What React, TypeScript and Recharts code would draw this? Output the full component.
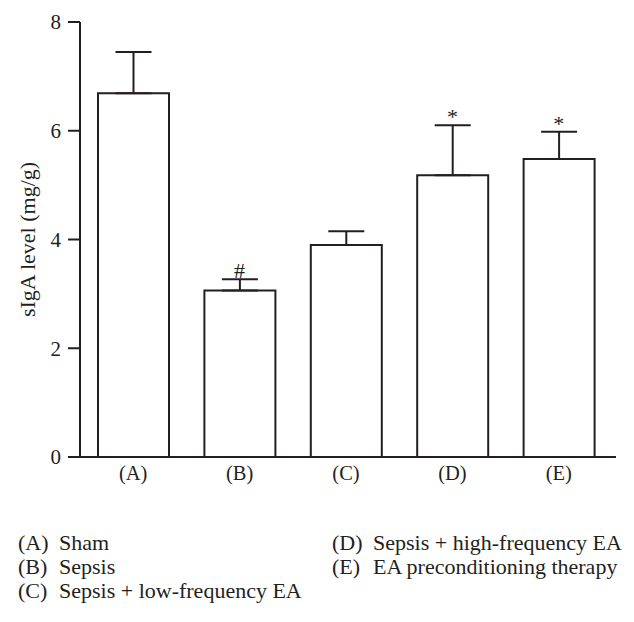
import React from 'react';
import { ComposedChart, Bar, Line, XAxis, YAxis, ErrorBar, LabelList } from 'recharts';

const groups = ['(A)', '(B)', '(C)', '(D)', '(E)'];
const sigaMean = [6.69, 3.06, 3.9, 5.18, 5.48];
const sigaErr = [0.76, 0.21, 0.25, 0.92, 0.5];
const marks = ['', '#', '', '*', '*'];
const groupNames = [
  'Sham',
  'Sepsis',
  'Sepsis + low-frequency EA',
  'Sepsis + high-frequency EA',
  'EA preconditioning therapy',
];

const ink = '#231f20';
const font = '"Liberation Serif", "DejaVu Serif", serif';

const data = groups.map((g, i) => ({
  group: g,
  mean: sigaMean[i],
  err: [0, sigaErr[i]],
  top: sigaMean[i] + sigaErr[i],
  mark: marks[i],
}));

const LegendRow = ({ i }: { i: number }) => (
  <div style={{ display: 'flex', height: 24, alignItems: 'center', whiteSpace: 'nowrap' }}>
    <span style={{ width: 41 }}>{groups[i]}</span>
    <span>{groupNames[i]}</span>
  </div>
);

const App = () => {
  return (
    <div style={{ position: 'absolute', left: 0, top: 0, width: 634, height: 622, overflow: 'hidden', background: '#fff', fontFamily: font, color: ink }}>
      <ComposedChart width={634} height={498} data={data} margin={{ top: 22, right: 18, bottom: 11, left: 0 }}>
        <YAxis
          width={80}
          domain={[0, 8]}
          ticks={[0, 2, 4, 6, 8]}
          tickSize={12}
          tickMargin={7}
          stroke={ink}
          strokeWidth={2}
          tick={{ fill: ink, fontSize: 21, fontFamily: font }}
          label={{ value: 'sIgA level (mg/g)', angle: -90, position: 'center', dx: -13, fill: ink, fontSize: 22, fontFamily: font }}
        />
        <XAxis
          dataKey="group"
          height={30}
          tickLine={false}
          padding={{ left: 0, right: 4 }}
          stroke={ink}
          strokeWidth={2}
          tick={{ fill: ink, fontSize: 20.5, fontFamily: font }}
        />
        <Bar dataKey="mean" barSize={71} fill="#fff" stroke={ink} strokeWidth={2} isAnimationActive={false}>
          <ErrorBar dataKey="err" width={18} stroke={ink} strokeWidth={2} direction="y" />
        </Bar>
        <Line dataKey="top" stroke="none" dot={false} activeDot={false} isAnimationActive={false}>
          <LabelList dataKey="mark" position="top" offset={1} fill={ink} fontSize={22} fontFamily={font} />
        </Line>
      </ComposedChart>
      <div style={{ position: 'absolute', top: 531, left: 18, fontSize: 22 }}>
        <LegendRow i={0} />
        <LegendRow i={1} />
        <LegendRow i={2} />
      </div>
      <div style={{ position: 'absolute', top: 531, left: 332, fontSize: 22 }}>
        <LegendRow i={3} />
        <LegendRow i={4} />
      </div>
    </div>
  );
};

export default App;
